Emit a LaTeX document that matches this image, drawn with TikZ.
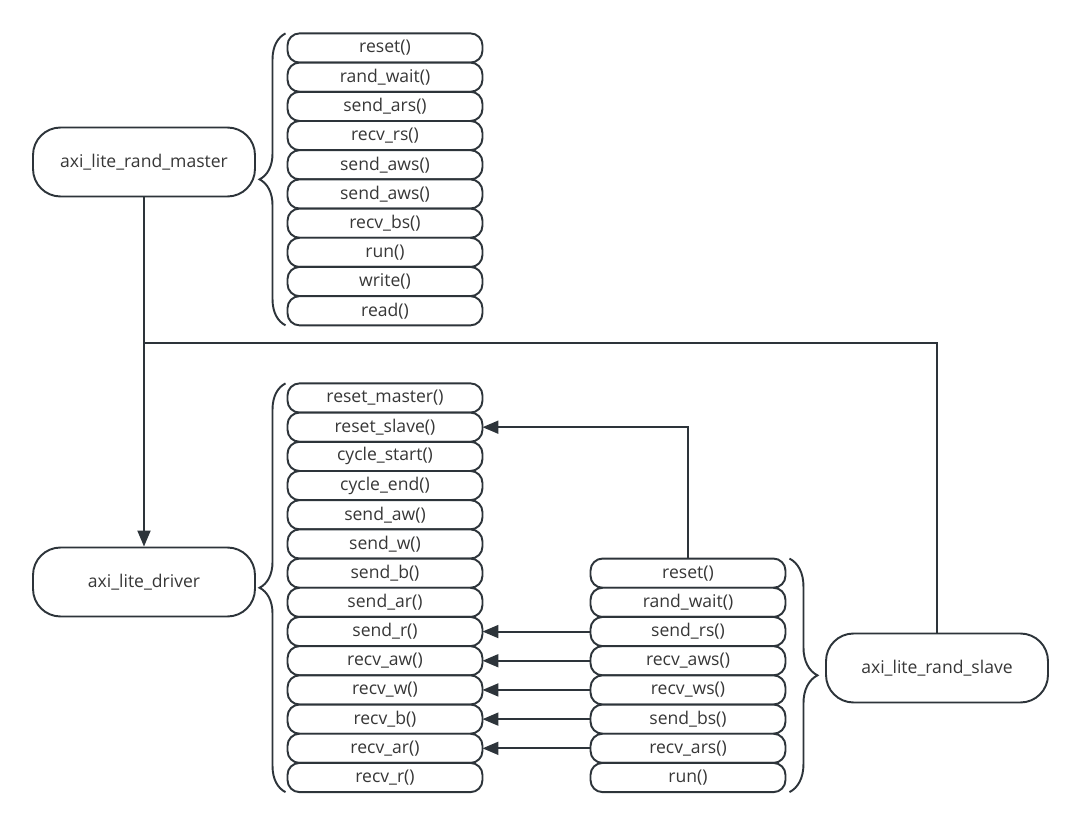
\documentclass[tikz,border=0pt]{standalone}
\usepackage{fontspec}
\setmainfont{Open Sans}
\usetikzlibrary{positioning,arrows.meta,decorations.pathreplacing}
\definecolor{axiTrait}{RGB}{45,52,58}
\definecolor{axiTexte}{RGB}{55,55,55}

\begin{document}
\begin{tikzpicture}[
  x=0.02cm, y=-0.02cm, every node/.style={font=\fontsize{10}{12}\selectfont, text=axiTexte},
  cls/.style={draw=axiTrait, line width=1.1pt, rounded corners=0.55cm, minimum width=4.44cm,
              minimum height=1.38cm, align=center, fill=white},
  fn/.style={draw=axiTrait, line width=1.1pt, rounded corners=0.24cm, minimum width=3.9cm,
             minimum height=0.584cm, inner sep=0pt, outer sep=0pt, fill=white},
  br/.style={draw=axiTrait, line width=1.1pt, decorate, decoration={brace, amplitude=#1}},
  lien/.style={draw=axiTrait, line width=1.1pt},
  fl/.style={lien, -{Triangle[length=0.32cm, width=0.26cm]}}
]
\useasboundingbox (0,0) rectangle (1080,828);

% classes
\node[cls] (mst) at (144,162) {axi\_lite\_rand\_master};
\node[cls] (drv) at (144,582) {axi\_lite\_driver};
\node[cls] (slv) at (937,668) {axi\_lite\_rand\_slave};

% axi_lite_rand_master
\node[fn] (m1) at (385,48) {reset()};
\node[fn, below=0pt of m1] (m2) {rand\_wait()};
\node[fn, below=0pt of m2] (m3) {send\_ars()};
\node[fn, below=0pt of m3] (m4) {recv\_rs()};
\node[fn, below=0pt of m4] (m5) {send\_aws()};
\node[fn, below=0pt of m5] (m6) {send\_aws()};
\node[fn, below=0pt of m6] (m7) {recv\_bs()};
\node[fn, below=0pt of m7] (m8) {run()};
\node[fn, below=0pt of m8] (m9) {write()};
\node[fn, below=0pt of m9] (m10) {read()};

% axi_lite_driver
\node[fn] (d1) at (385,398) {reset\_master()};
\node[fn, below=0pt of d1] (d2) {reset\_slave()};
\node[fn, below=0pt of d2] (d3) {cycle\_start()};
\node[fn, below=0pt of d3] (d4) {cycle\_end()};
\node[fn, below=0pt of d4] (d5) {send\_aw()};
\node[fn, below=0pt of d5] (d6) {send\_w()};
\node[fn, below=0pt of d6] (d7) {send\_b()};
\node[fn, below=0pt of d7] (d8) {send\_ar()};
\node[fn, below=0pt of d8] (d9) {send\_r()};
\node[fn, below=0pt of d9] (d10) {recv\_aw()};
\node[fn, below=0pt of d10] (d11) {recv\_w()};
\node[fn, below=0pt of d11] (d12) {recv\_b()};
\node[fn, below=0pt of d12] (d13) {recv\_ar()};
\node[fn, below=0pt of d13] (d14) {recv\_r()};

% axi_lite_rand_slave
\node[fn] (s1) at (d7 -| 688,0) {reset()};
\node[fn, below=0pt of s1] (s2) {rand\_wait()};
\node[fn, below=0pt of s2] (s3) {send\_rs()};
\node[fn, below=0pt of s3] (s4) {recv\_aws()};
\node[fn, below=0pt of s4] (s5) {recv\_ws()};
\node[fn, below=0pt of s5] (s6) {send\_bs()};
\node[fn, below=0pt of s6] (s7) {recv\_ars()};
\node[fn, below=0pt of s7] (s8) {run()};

% accolades
\draw[br=0.52cm] ([xshift=-0.04cm]m10.south west) -- ([xshift=-0.04cm]m1.north west);
\draw[br=0.52cm] ([xshift=-0.04cm]d14.south west) -- ([xshift=-0.04cm]d1.north west);
\draw[br=0.56cm] ([xshift=0.08cm]s1.north east) -- ([xshift=0.08cm]s8.south east);

% liens
\draw[fl] (mst.south) -- (drv.north);
\coordinate (jn) at (mst.south |- 0,343);
\draw[lien] (jn) -| (slv.north);
\draw[fl] (s1.north) |- (d2.east);
\draw[fl] (s3.west) -- (d9.east);
\draw[fl] (s4.west) -- (d10.east);
\draw[fl] (s5.west) -- (d11.east);
\draw[fl] (s6.west) -- (d12.east);
\draw[fl] (s7.west) -- (d13.east);
\end{tikzpicture}
\end{document}
